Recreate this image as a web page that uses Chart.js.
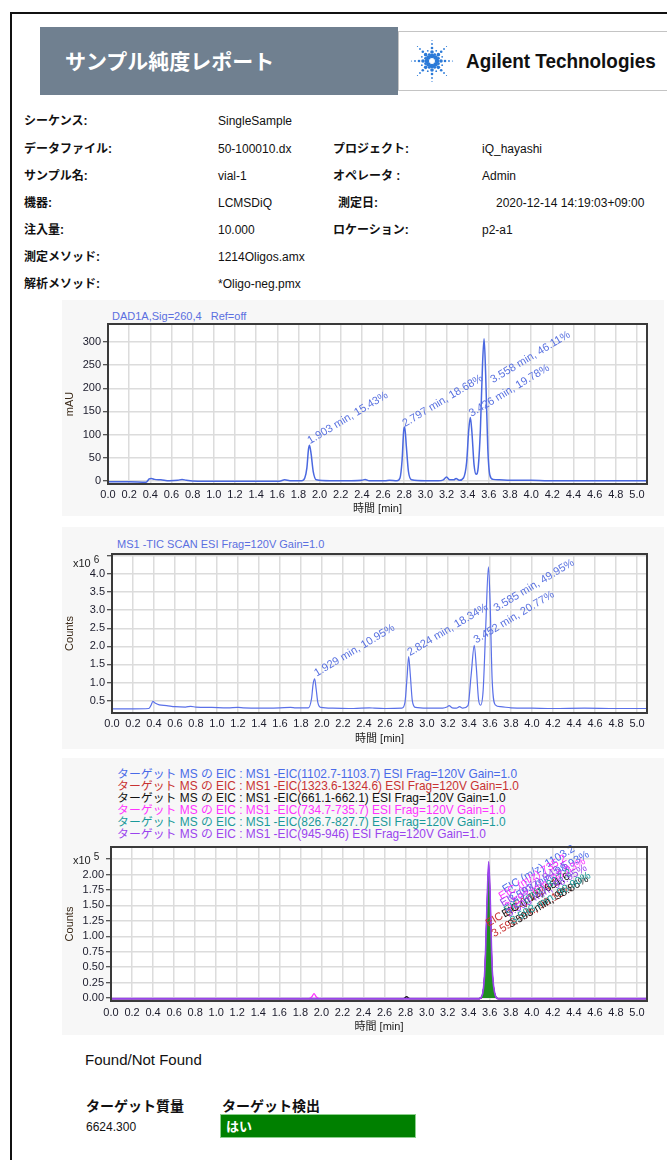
<!DOCTYPE html>
<html lang="ja">
<head>
<meta charset="UTF-8">
<title>サンプル純度レポート</title>
<script src="https://cdn.jsdelivr.net/npm/chart.js"></script>
<style>
  body {
    margin: 0;
    width: 667px;
    height: 1160px;
    position: relative;
    overflow: hidden;
    background: #ffffff;
    font-family: "Liberation Sans", Arial, "Noto Sans CJK JP", sans-serif;
    color: #111;
  }
  .abs { position: absolute; white-space: nowrap; }
  .page-frame {
    position: absolute; left: 10px; top: 12px; width: 700px; height: 1200px;
    border-left: 2px solid #111; border-top: 2px solid #111;
  }
  .banner { left: 40px; top: 27px; width: 358px; height: 68px; background: #708090; }
  .banner-title {
    left: 65px; top: 45px; font-size: 21px; line-height: 30px; font-weight: bold; color: #fff;
    font-family: "Noto Sans CJK JP", sans-serif;
  }
  .logo-box { left: 398px; top: 31px; width: 290px; height: 58px; background: #fff; border: 1px solid #c4c4c4; }
  .logo-text {
    left: 466px; top: 47px; font-size: 21px; line-height: 28px; font-weight: bold;
    font-family: "Liberation Sans Narrow", "Liberation Sans", Arial, sans-serif;
    transform: scaleX(0.9); transform-origin: left center;
  }
  .info { font-size: 12px; line-height: 16px; }
  .lbl { font-weight: bold; }
  .chart-bg { left: 62px; width: 602px; background: #f7f7f7; }
  .chart-title { font-size: 11px; line-height: 14px; color: #5b6fe0; }
  .mult { font-size: 11px; line-height: 14px; color: #222; }
  .mult sup { font-size: 10px; vertical-align: 4px; margin-left: 3px; }
  canvas { position: absolute; left: 0; }
  .legend-line { left: 117px; font-size: 11.9px; line-height: 12px; }
  .found { left: 85px; top: 1050px; font-size: 15px; line-height: 20px; }
  .col-head { top: 1095px; font-size: 14px; line-height: 20px; font-weight: bold; font-family: "Noto Sans CJK JP", sans-serif; }
  .mass { left: 86px; top: 1119px; font-size: 12px; line-height: 16px; }
  .yes-box {
    left: 220px; top: 1114px; width: 196px; height: 24px; background: #008000;
    border: 1px solid #8ccf8c; color: #fff; font-weight: bold; font-size: 13px; line-height: 22px;
    padding-left: 5px; box-sizing: border-box;
    font-family: "Noto Sans CJK JP", sans-serif;
  }
</style>
</head>
<body>
<div class="page-frame"></div>

<div class="abs banner"></div>
<div class="abs banner-title">サンプル純度レポート</div>
<div class="abs logo-box"></div>
<svg class="abs" style="left:410px;top:39px" width="44" height="44" viewBox="0 0 44 44">
  <g fill="#2b7ad8" id="spark"></g>
</svg>
<div class="abs logo-text">Agilent Technologies</div>

<div class="abs info lbl" style="left:24px;top:113px">シーケンス:</div>
<div class="abs info" style="left:218px;top:113px">SingleSample</div>
<div class="abs info lbl" style="left:24px;top:141px">データファイル:</div>
<div class="abs info" style="left:218px;top:141px">50-100010.dx</div>
<div class="abs info lbl" style="left:333px;top:141px">プロジェクト:</div>
<div class="abs info" style="left:482px;top:141px">iQ_hayashi</div>
<div class="abs info lbl" style="left:24px;top:168px">サンプル名:</div>
<div class="abs info" style="left:218px;top:168px">vial-1</div>
<div class="abs info lbl" style="left:333px;top:168px">オペレータ :</div>
<div class="abs info" style="left:482px;top:168px">Admin</div>
<div class="abs info lbl" style="left:24px;top:195px">機器:</div>
<div class="abs info" style="left:218px;top:195px">LCMSDiQ</div>
<div class="abs info lbl" style="left:338px;top:195px">測定日:</div>
<div class="abs info" style="left:496px;top:195px">2020-12-14 14:19:03+09:00</div>
<div class="abs info lbl" style="left:24px;top:222px">注入量:</div>
<div class="abs info" style="left:218px;top:222px">10.000</div>
<div class="abs info lbl" style="left:333px;top:222px">ロケーション:</div>
<div class="abs info" style="left:482px;top:222px">p2-a1</div>
<div class="abs info lbl" style="left:24px;top:249px">測定メソッド:</div>
<div class="abs info" style="left:218px;top:249px">1214Oligos.amx</div>
<div class="abs info lbl" style="left:24px;top:276px">解析メソッド:</div>
<div class="abs info" style="left:218px;top:276px">*Oligo-neg.pmx</div>

<div class="abs chart-bg" style="top:300px;height:216px"></div>
<div class="abs chart-bg" style="top:527px;height:222px"></div>
<div class="abs chart-bg" style="top:758px;height:277px"></div>

<div class="abs chart-title" style="left:112px;top:309px">DAD1A,Sig=260,4&nbsp;&nbsp; Ref=off</div>
<canvas id="dadChart" width="667" height="220" style="top:300px"></canvas>

<div class="abs chart-title" style="left:117px;top:537px">MS1 -TIC SCAN ESI Frag=120V Gain=1.0</div>
<canvas id="ticChart" width="667" height="220" style="top:530px"></canvas>
<div class="abs mult" style="left:73px;top:553px">x10<sup>6</sup></div>

<div id="eicLegend"></div>
<canvas id="eicChart" width="667" height="208" style="top:830px"></canvas>
<div class="abs mult" style="left:73px;top:850px">x10<sup>5</sup></div>

<div class="abs found">Found/Not Found</div>
<div class="abs col-head" style="left:86px">ターゲット質量</div>
<div class="abs col-head" style="left:222px">ターゲット検出</div>
<div class="abs mass">6624.300</div>
<div class="abs yes-box">はい</div>

<script>
// ---- DAD trace (mAU) ----
const dadTime = [0.00, 0.20, 0.36, 0.39, 0.41, 0.44, 0.50, 0.58, 0.66, 0.70, 0.74, 0.85, 1.00, 1.20, 1.40,
  1.62, 1.67, 1.72, 1.83, 1.86, 1.88, 1.895, 1.905, 1.92, 1.94, 1.97, 2.10, 2.30, 2.40, 2.43, 2.47, 2.62,
  2.66, 2.73, 2.76, 2.78, 2.795, 2.805, 2.82, 2.84, 2.87, 3.00, 3.12, 3.17, 3.20, 3.23, 3.27, 3.29, 3.32,
  3.36, 3.39, 3.41, 3.425, 3.44, 3.46, 3.48, 3.50, 3.52, 3.54, 3.555, 3.57, 3.59, 3.61, 3.64, 3.70, 3.80,
  4.00, 4.16, 4.30, 5.095];
const dadSignal = [-2, -2, -3, 4, 5, 3, 2, 0, 1, 3, 1, -1, -1, -1, -1,
  -1, 2, 0, 0, 6, 28, 68, 77, 58, 20, 2, 0, 0, 1, 3, 0, 0,
  1, 0, 6, 45, 108, 116, 75, 20, 2, 0, 0, 2, 8, 2, 2, 5, 1,
  6, 40, 110, 137, 105, 35, 14, 30, 110, 250, 307, 230, 70, 12, 3, 2, 1,
  1, 0, 0, 0];
const dadPeakTime = [1.903, 2.797, 3.426, 3.558];
const dadPeakArea = [15.43, 18.68, 19.78, 46.11];
const dadLabelX = [1.91, 2.807, 3.437, 3.64];
const dadLabelY = [79, 116, 138, 211];

// ---- TIC trace (x10^6 counts) ----
const ticTime = [0.00, 0.20, 0.35, 0.37, 0.39, 0.41, 0.45, 0.52, 0.60, 0.70, 0.75, 0.80, 0.95, 1.10, 1.20,
  1.25, 1.40, 1.60, 1.70, 1.75, 1.87, 1.90, 1.915, 1.93, 1.945, 1.96, 1.99, 2.10, 2.30, 2.45, 2.50, 2.60,
  2.76, 2.79, 2.81, 2.825, 2.84, 2.86, 2.89, 3.00, 3.15, 3.19, 3.21, 3.24, 3.28, 3.31, 3.34, 3.39, 3.42,
  3.45, 3.47, 3.49, 3.51, 3.535, 3.56, 3.585, 3.60, 3.62, 3.65, 3.70, 3.80, 4.00, 4.20, 4.50, 4.80, 5.095];
const ticCounts = [0.27, 0.27, 0.28, 0.36, 0.48, 0.43, 0.38, 0.36, 0.33, 0.32, 0.34, 0.32, 0.31, 0.30, 0.31,
  0.30, 0.29, 0.30, 0.31, 0.30, 0.30, 0.55, 0.95, 1.10, 0.80, 0.45, 0.31, 0.29, 0.28, 0.30, 0.29, 0.28,
  0.29, 0.45, 1.15, 1.72, 1.25, 0.50, 0.31, 0.29, 0.29, 0.32, 0.36, 0.30, 0.29, 0.33, 0.29, 0.36, 1.20,
  2.03, 1.40, 0.55, 0.37, 0.80, 2.60, 4.20, 3.30, 1.10, 0.38, 0.33, 0.30, 0.29, 0.28, 0.29, 0.28, 0.28];
const ticPeakTime = [1.929, 2.824, 3.452, 3.585];
const ticPeakArea = [10.95, 18.34, 20.77, 49.95];
const ticLabelX = [1.95, 2.838, 3.47, 3.66];
const ticLabelY = [1.16, 1.73, 2.08, 2.96];

// ---- EIC traces (x10^5 counts) ----
const eicTime = [0.00, 1.00, 1.88, 1.91, 1.93, 1.95, 1.98, 2.78, 2.81, 2.84, 3.50, 3.53, 3.555, 3.575,
  3.59, 3.605, 3.62, 3.645, 3.68, 4.50, 5.095];
const eicPurple  = [-0.01, -0.01, -0.01, -0.01, -0.01, -0.01, -0.01, -0.01, -0.01, -0.01, -0.01, 0.05, 0.50, 1.55, 2.21, 1.60, 0.60, 0.10, -0.01, -0.01, -0.01];
const eicMagenta = [-0.01, -0.01, -0.01, 0.02, 0.07, 0.02, -0.01, -0.01, -0.01, -0.01, -0.01, 0.04, 0.45, 1.45, 2.15, 1.50, 0.55, 0.08, -0.01, -0.01, -0.01];
const eicTeal    = [-0.01, -0.01, -0.01, -0.01, -0.01, -0.01, -0.01, -0.01, -0.01, -0.01, -0.01, 0.04, 0.42, 1.35, 2.00, 1.40, 0.50, 0.07, -0.01, -0.01, -0.01];
const eicBlack   = [-0.01, -0.01, -0.01, -0.01, -0.01, -0.01, -0.01, -0.01, 0.02, -0.01, -0.01, 0.04, 0.44, 1.42, 2.10, 1.45, 0.52, 0.08, -0.01, -0.01, -0.01];
const eicRed     = [-0.01, -0.01, -0.01, -0.01, -0.01, -0.01, -0.01, -0.01, -0.01, -0.01, -0.01, 0.03, 0.40, 1.30, 1.95, 1.35, 0.48, 0.07, -0.01, -0.01, -0.01];
const eicBlue    = [-0.01, -0.01, -0.01, -0.01, -0.01, -0.01, -0.01, -0.01, -0.01, -0.01, -0.01, 0.04, 0.43, 1.40, 2.05, 1.42, 0.50, 0.07, -0.01, -0.01, -0.01];
const eicRanges = ['1102.7-1103.7', '1323.6-1324.6', '661.1-662.1', '734.7-735.7', '826.7-827.7', '945-946'];
const eicMz = ['1103.2', '1324.1', '661.6', '735.2', '827.2', '945.5'];
const eicPeakArea = [98.93, 99.15, 98.86, 98.83, 98.90, 98.95];
const eicLabelX = [3.745, 3.585, 3.74, 3.71, 3.76, 3.725];
const eicLabelY = [1.70, 1.15, 1.30, 1.59, 1.36, 1.48];
const eicColors = ['#4a6ae8', '#c83232', '#111111', '#ff33ff', '#1a9a9a', '#9a44ee'];

const FONT = '"Liberation Sans", "Noto Sans CJK JP", sans-serif';

// legend lines above the EIC plot
const legendBox = document.getElementById('eicLegend');
eicRanges.forEach((r, i) => {
  const d = document.createElement('div');
  d.className = 'abs legend-line';
  d.style.top = (768 + i * 12) + 'px';
  d.style.color = eicColors[i];
  d.textContent = 'ターゲット MS の EIC : MS1 -EIC(' + r + ') ESI Frag=120V Gain=1.0';
  legendBox.appendChild(d);
});

// Agilent spark
const spark = document.getElementById('spark');
for (let k = 0; k < 16; k++) {
  const a = k * Math.PI / 8;
  const dots = k % 2 === 0 ? [[5, 2.3], [9, 1.8], [13, 1.3], [17, 0.9], [20.5, 0.6]] : [[7, 1.4], [11, 0.9]];
  dots.forEach(([r, s]) => {
    const c = document.createElementNS('http://www.w3.org/2000/svg', 'circle');
    c.setAttribute('cx', 22 + r * Math.cos(a));
    c.setAttribute('cy', 22 + r * Math.sin(a));
    c.setAttribute('r', s);
    spark.appendChild(c);
  });
}

// white plot background + dark frame
Chart.register({
  id: 'plotFrame',
  beforeDraw(chart) {
    const a = chart.chartArea, ctx = chart.ctx;
    ctx.save();
    ctx.fillStyle = '#ffffff';
    ctx.fillRect(a.left, a.top, a.right - a.left, a.bottom - a.top);
    ctx.restore();
  },
  afterDraw(chart) {
    const a = chart.chartArea, ctx = chart.ctx;
    ctx.save();
    ctx.strokeStyle = '#3a3a3a';
    ctx.lineWidth = 2;
    ctx.strokeRect(a.left, a.top, a.right - a.left, a.bottom - a.top);
    ctx.restore();
  }
});

function peakLabels(items) {
  return {
    id: 'peakLabels',
    afterDatasetsDraw(chart) {
      const {ctx, scales} = chart;
      ctx.save();
      ctx.font = '11px "Liberation Sans", sans-serif';
      items.forEach(it => {
        ctx.save();
        ctx.translate(scales.x.getPixelForValue(it.x), scales.y.getPixelForValue(it.y));
        ctx.rotate(-31 * Math.PI / 180);
        ctx.fillStyle = it.color;
        it.lines.forEach((line, i) => ctx.fillText(line, 0, i * 12));
        ctx.restore();
      });
      ctx.restore();
    }
  };
}

function xAxis(h, pad) {
  return {
    type: 'linear', min: 0, max: 5.095,
    ticks: {
      stepSize: 0.2, includeBounds: false, autoSkip: false, maxRotation: 0, padding: pad,
      color: '#1b1b2b', font: {family: FONT, size: 11}, callback: v => v.toFixed(1)
    },
    grid: {color: '#dcdcdc', lineWidth: 1.5, drawTicks: false},
    border: {display: false},
    title: {display: true, text: '時間 [min]', color: '#222', font: {family: FONT, size: 11}, padding: {top: 2, bottom: 4}},
    afterFit(s) { s.height = h; }
  };
}

// the top tick label is left blank where the report prints its x10^n multiplier
function yAxis(w, min, max, step, title, fmt, hideAbove) {
  return {
    min: min, max: max,
    ticks: {
      stepSize: step, includeBounds: false, padding: 2, color: '#1b1b2b', font: {family: FONT, size: 11},
      callback: v => (v > hideAbove ? '' : fmt(v))
    },
    grid: {color: '#dcdcdc', lineWidth: 1.5, tickLength: 5, tickColor: '#222', tickWidth: 1},
    border: {display: false},
    title: {display: true, text: title, color: '#3b2a18', font: {family: FONT, size: 11}, padding: {top: 4, bottom: 0}},
    afterFit(s) { s.width = w; }
  };
}

function pts(xs, ys) { return xs.map((t, i) => ({x: t, y: ys[i]})); }

function line(data, color, width, extra) {
  return Object.assign({
    data: data, borderColor: color, borderWidth: width, pointRadius: 0,
    fill: false, cubicInterpolationMode: 'monotone'
  }, extra || {});
}

const baseOpts = {
  responsive: false, animation: false, parsing: false,
  plugins: {legend: {display: false}, tooltip: {enabled: false}}
};

// DAD
const dadItems = dadPeakTime.map((t, i) => ({
  x: dadLabelX[i], y: dadLabelY[i], color: '#5a72e0',
  lines: [t.toFixed(3) + ' min, ' + dadPeakArea[i].toFixed(2) + '%']
}));
new Chart(document.getElementById('dadChart'), {
  type: 'line',
  data: {datasets: [line(pts(dadTime, dadSignal), '#4a68e0', 1.5)]},
  options: Object.assign({}, baseOpts, {
    layout: {padding: {top: 24, left: 59, right: 20, bottom: 0}},
    scales: {x: xAxis(36, 4), y: yAxis(49, -7, 339, 50, 'mAU', v => String(v), 1000)}
  }),
  plugins: [peakLabels(dadItems)]
});

// TIC
const ticItems = ticPeakTime.map((t, i) => ({
  x: ticLabelX[i], y: ticLabelY[i], color: '#5a72e0',
  lines: [t.toFixed(3) + ' min, ' + ticPeakArea[i].toFixed(2) + '%']
}));
new Chart(document.getElementById('ticChart'), {
  type: 'line',
  data: {datasets: [line(pts(ticTime, ticCounts), '#5a70e8', 1.2)]},
  options: Object.assign({}, baseOpts, {
    layout: {padding: {top: 24, left: 59, right: 20, bottom: 0}},
    scales: {x: xAxis(37, 4), y: yAxis(53, 0.156, 4.556, 0.5, 'Counts', v => v.toFixed(1), 4.2)}
  }),
  plugins: [peakLabels(ticItems)]
});

// EIC
const eicItems = eicMz.map((mz, i) => ({
  x: eicLabelX[i], y: eicLabelY[i], color: eicColors[i],
  lines: ['EIC (m/z) ' + mz, '3.593 min, ' + eicPeakArea[i].toFixed(2) + '%']
}));
// purple drawn last (on top), carrying the green integrated area
const eicDatasets = [
  line(pts(eicTime, eicPurple), eicColors[5], 1.6, {fill: 'origin', backgroundColor: '#1f8f1f'}),
  line(pts(eicTime, eicMagenta), eicColors[3], 1.3),
  line(pts(eicTime, eicTeal), eicColors[4], 1.3),
  line(pts(eicTime, eicBlack), eicColors[2], 1.3),
  line(pts(eicTime, eicRed), eicColors[1], 1.3),
  line(pts(eicTime, eicBlue), eicColors[0], 1.3)
];
new Chart(document.getElementById('eicChart'), {
  type: 'line',
  data: {datasets: eicDatasets},
  options: Object.assign({}, baseOpts, {
    layout: {padding: {top: 17, left: 59, right: 20, bottom: 0}},
    scales: {x: xAxis(37, 5), y: yAxis(52, -0.049, 2.447, 0.25, 'Counts', v => v.toFixed(2), 2.1)}
  }),
  plugins: [peakLabels(eicItems)]
});
</script>
</body>
</html>
